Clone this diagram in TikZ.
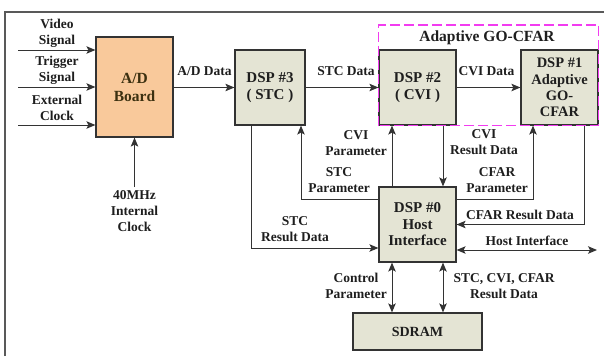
\documentclass[tikz,border=0pt]{standalone}
\usepackage{fontspec}
\setmainfont{Liberation Serif}
\usetikzlibrary{arrows.meta}
\definecolor{boxfill}{HTML}{E4E4D4}
\definecolor{adfill}{HTML}{F9C99B}
\definecolor{linecol}{HTML}{333333}
\definecolor{txtcol}{HTML}{1E1E1E}
\definecolor{adtxt}{HTML}{3C3010}
\definecolor{groupcol}{HTML}{F23CF0}
\begin{document}
\begin{tikzpicture}[x=1pt,y=-1pt,
  font=\fontsize{13.5}{16}\selectfont\bfseries,
  every node/.style={text=txtcol},
  dspbox/.style={draw=linecol,line width=1.2pt,fill=boxfill,inner sep=0pt,
    minimum width=77pt,minimum height=75pt,align=center,
    font=\fontsize{15}{16.5}\selectfont\bfseries},
  lbl/.style={align=center,inner sep=0pt},
  conn/.style={draw=linecol,line width=1pt},
  arr/.style={conn,-{Stealth[length=9pt,width=7.5pt,inset=2pt]}},
  biarr/.style={conn,{Stealth[length=9pt,width=7.5pt,inset=2pt]}-{Stealth[length=9pt,width=7.5pt,inset=2pt]}},
  frame/.style={draw=black!65,line width=1.4pt},
  group/.style={draw=groupcol,line width=1.5pt,dash pattern=on 10pt off 4pt}]
\useasboundingbox (0,0) rectangle (604,356);

% outer frame
\draw[frame] (5,356) |- (604,12);

% processing blocks
\node[dspbox,fill=adfill,minimum height=100pt,text=adtxt,
  font=\fontsize{15.5}{18}\selectfont\bfseries] (ad) at (134.5,87) {A/D\\Board};
\node[dspbox,minimum width=70pt] (dsp3) at (270,87.5) {DSP \#3\\( STC )};
\node[dspbox] (dsp2) at (417.5,87.5) {DSP \#2\\( CVI )};
\node[dspbox,font=\fontsize{14.5}{16.3}\selectfont\bfseries] (dsp1) at (559.5,87.5) {DSP \#1\\Adaptive\\GO-\\CFAR};
\node[dspbox] (dsp0) at (417.5,224.5) {DSP \#0\\Host\\Interface};
\node[dspbox,minimum width=129pt,minimum height=37pt,
  font=\fontsize{14}{16}\selectfont\bfseries] (sdram) at (417.5,331.5) {SDRAM};

% adaptive GO-CFAR group
\draw[group] (dsp2.south west) rectangle (dsp1.east |- 0,25);
\node[lbl,font=\fontsize{15.5}{17}\selectfont\bfseries] (grouplbl) at (487,38) {Adaptive GO-CFAR};

% inputs of the A/D board
\coordinate (in1) at (18,50);
\coordinate (in2) at (18,87);
\coordinate (in3) at (18,125);
\coordinate (clk) at (134.5,187);
\draw[arr] (in1) -- (in1 -| ad.west);
\draw[arr] (in2) -- (in2 -| ad.west);
\draw[arr] (in3) -- (in3 -| ad.west);
\draw[arr] (clk) -- (ad.south);
\node[lbl] (l1) at (57,33) {Video\\Signal};
\node[lbl] (l2) at (57,70) {Trigger\\Signal};
\node[lbl] (l3) at (57,108) {External\\Clock};
\node[lbl] (l4) at (134.5,211) {40MHz\\Internal\\Clock};

% data chain
\draw[arr] (ad.east |- dsp3.west) -- (dsp3.west);
\draw[arr] (dsp3.east) -- (dsp2.west);
\draw[arr] (dsp2.east) -- (dsp1.west);
\node[lbl] (l5) at (204.5,71) {A/D Data};
\node[lbl] (l6) at (346,71) {STC Data};
\node[lbl] (l7) at (486.5,71) {CVI Data};

% links with the host DSP
\draw[arr] ([xshift=-19pt]dsp3.south) |- ([yshift=-23.5pt]dsp0.west);
\draw[arr] ([yshift=25.5pt]dsp0.west) -| ([xshift=31pt]dsp3.south);
\draw[arr] ([xshift=-25.5pt]dsp0.north) -- ([xshift=-25.5pt]dsp2.south);
\draw[arr] ([xshift=25.5pt]dsp2.south) -- ([xshift=25.5pt]dsp0.north);
\draw[arr] ([yshift=25.5pt]dsp0.east) -| ([xshift=-26.5pt]dsp1.south);
\draw[arr] ([xshift=24.5pt]dsp1.south) |- (dsp0.east);
\coordinate (hostend) at (597,250);
\draw[biarr] (dsp0.east |- hostend) -- (hostend);
\draw[biarr] ([xshift=-25.5pt]dsp0.south) -- ([xshift=-25.5pt]sdram.north);
\draw[biarr] ([xshift=25.5pt]dsp0.south) -- ([xshift=25.5pt]sdram.north);

\node[lbl] (l8) at (356,143) {CVI\\Parameter};
\node[lbl] (l9) at (339,180) {STC\\Parameter};
\node[lbl] (l10) at (295,229) {STC\\Result Data};
\node[lbl] (l11) at (484,142) {CVI\\Result Data};
\node[lbl] (l12) at (497,180) {CFAR\\Parameter};
\node[lbl] (l13) at (520,215) {CFAR Result Data};
\node[lbl] (l14) at (527,241) {Host Interface};
\node[lbl] (l15) at (356,286) {Control\\Parameter};
\node[lbl] (l16) at (504,286) {STC, CVI, CFAR\\Result Data};
\end{tikzpicture}
\end{document}
